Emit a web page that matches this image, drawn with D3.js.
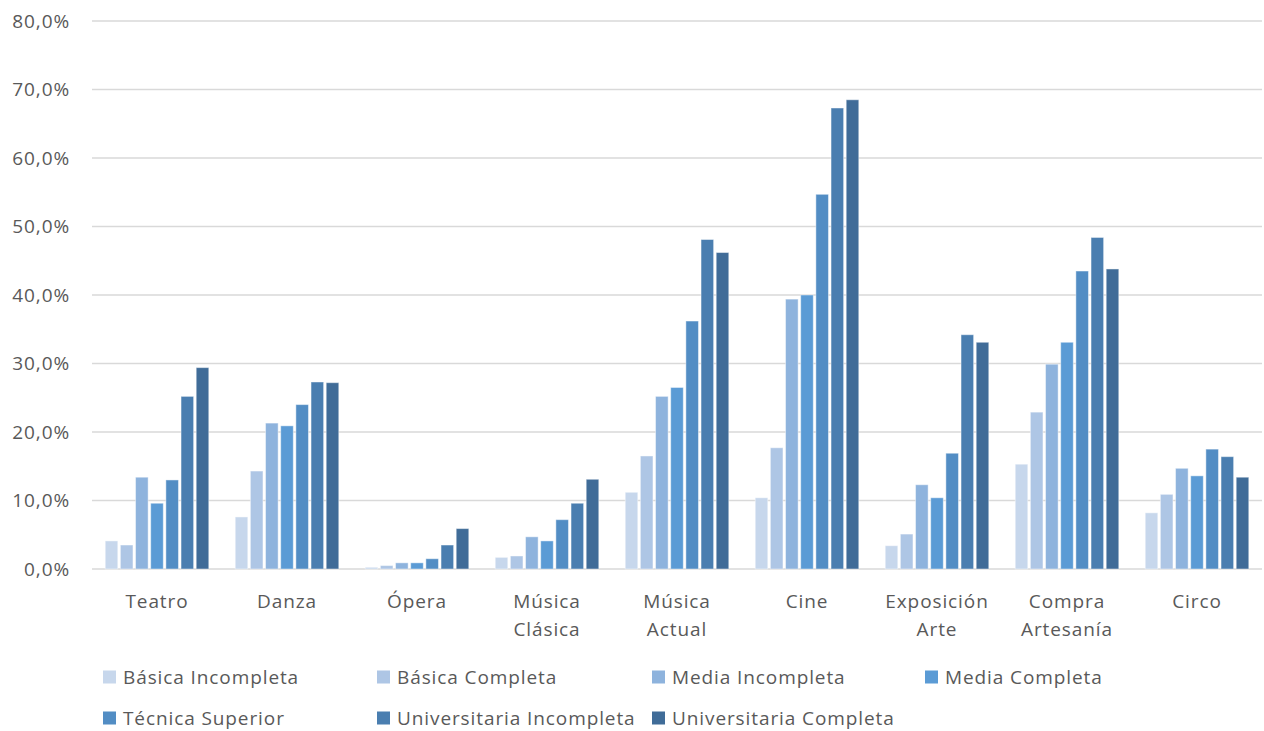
<!DOCTYPE html>
<html><head><meta charset="utf-8">
<script src="https://cdn.jsdelivr.net/npm/d3@7"></script>
<style>
html,body{margin:0;padding:0;background:#fff;}
svg{display:block;}
text{font-family:"Open Sans","Liberation Sans",sans-serif;fill:#595959;}
</style></head>
<body>
<svg id="chart" width="1264" height="731"></svg>
<script>
const categories = [["Teatro"],["Danza"],["Ópera"],["Música","Clásica"],["Música","Actual"],["Cine"],["Exposición","Arte"],["Compra","Artesanía"],["Circo"]];
const seriesNames = ["Básica Incompleta","Básica Completa","Media Incompleta","Media Completa","Técnica Superior","Universitaria Incompleta","Universitaria Completa"];
const colors = ["#c7d7ec","#aec6e5","#8eb3dd","#5b9bd5","#528dc4","#4a7eb0","#406c98"];
const basicaIncompleta = [4.1,7.6,0.25,1.7,11.2,10.4,3.4,15.3,8.2];
const basicaCompleta = [3.5,14.3,0.5,1.9,16.5,17.7,5.1,22.9,10.9];
const mediaIncompleta = [13.4,21.3,0.9,4.7,25.2,39.4,12.3,29.9,14.7];
const mediaCompleta = [9.6,20.9,0.9,4.1,26.5,40.0,10.4,33.1,13.6];
const tecnicaSuperior = [13.0,24.0,1.5,7.2,36.2,54.7,16.9,43.5,17.5];
const univIncompleta = [25.2,27.3,3.5,9.6,48.1,67.3,34.2,48.4,16.4];
const univCompleta = [29.4,27.2,5.9,13.1,46.2,68.5,33.1,43.8,13.4];
const seriesValues = [basicaIncompleta,basicaCompleta,mediaIncompleta,mediaCompleta,tecnicaSuperior,univIncompleta,univCompleta];
const yTicks = [0,10,20,30,40,50,60,70,80];

const FONT = '"Open Sans","Liberation Sans",sans-serif';
const FS = "19px";
const LS = "0.9px";

const svg = d3.select("#chart");
const catKeys = categories.map(c=>c.join(" "));
const x0 = d3.scaleBand().domain(catKeys).range([92,1262]).paddingInner(0).paddingOuter(0);
const x1 = d3.scaleBand().domain(seriesNames).range([12,118]).paddingInner(0.17).paddingOuter(0.08);
const y = d3.scaleLinear().domain([0,80]).range([569,21]);

// gridlines
svg.append("g").selectAll("line").data(yTicks).join("line")
  .attr("x1",92).attr("x2",1262)
  .attr("y1",d=>y(d)).attr("y2",d=>y(d))
  .attr("stroke","#d9d9d9").attr("stroke-width",1.3);

// y axis labels
const yAxis = d3.axisLeft(y).tickValues(yTicks).tickSize(0).tickPadding(0)
  .tickFormat(d=>d3.format(".1f")(d).replace(".",",")+"%");
const yg = svg.append("g").attr("transform","translate(70,0)").call(yAxis);
yg.select(".domain").remove();
yg.selectAll("text").attr("font-size",FS).attr("fill","#595959")
  .attr("font-family",FONT).attr("letter-spacing",LS);

// bars
const data = [];
categories.forEach((c,i)=>{
  seriesNames.forEach((s,j)=>{
    data.push({cat:catKeys[i],series:s,value:seriesValues[j][i],color:colors[j]});
  });
});
svg.append("g").selectAll("rect").data(data).join("rect")
  .attr("x",d=>x0(d.cat)+x1(d.series))
  .attr("width",x1.bandwidth())
  .attr("y",d=>y(d.value))
  .attr("height",d=>y(0)-y(d.value))
  .attr("fill",d=>d.color)
  .attr("stroke","#ffffff").attr("stroke-opacity",0.45).attr("stroke-width",1);

// category labels
const xAxis = d3.axisBottom(x0).tickSize(0).tickPadding(0);
const xg = svg.append("g").attr("transform","translate(0,569)").call(xAxis);
xg.select(".domain").remove();
xg.selectAll(".tick text").each(function(d,i){
  const t = d3.select(this);
  t.text(null).attr("y",0).attr("dy",null)
   .attr("font-size",FS).attr("fill","#595959")
   .attr("font-family",FONT).attr("letter-spacing",LS);
  categories[i].forEach((line,k)=>{
    t.append("tspan").attr("x",0).attr("y",39+k*28).text(line);
  });
});

// legend
const legendPos = [[103,677],[377,677],[652,677],[925,677],[103,718],[377,718],[652,718]];
const lg = svg.append("g");
seriesNames.forEach((s,j)=>{
  const [lx,ly] = legendPos[j];
  lg.append("rect").attr("x",lx).attr("y",ly-6.5).attr("width",13).attr("height",13).attr("fill",colors[j]);
  lg.append("text").attr("x",lx+20).attr("y",ly).attr("dy","0.35em")
    .attr("font-size",FS).attr("letter-spacing",LS).text(s);
});
</script>
</body></html>
